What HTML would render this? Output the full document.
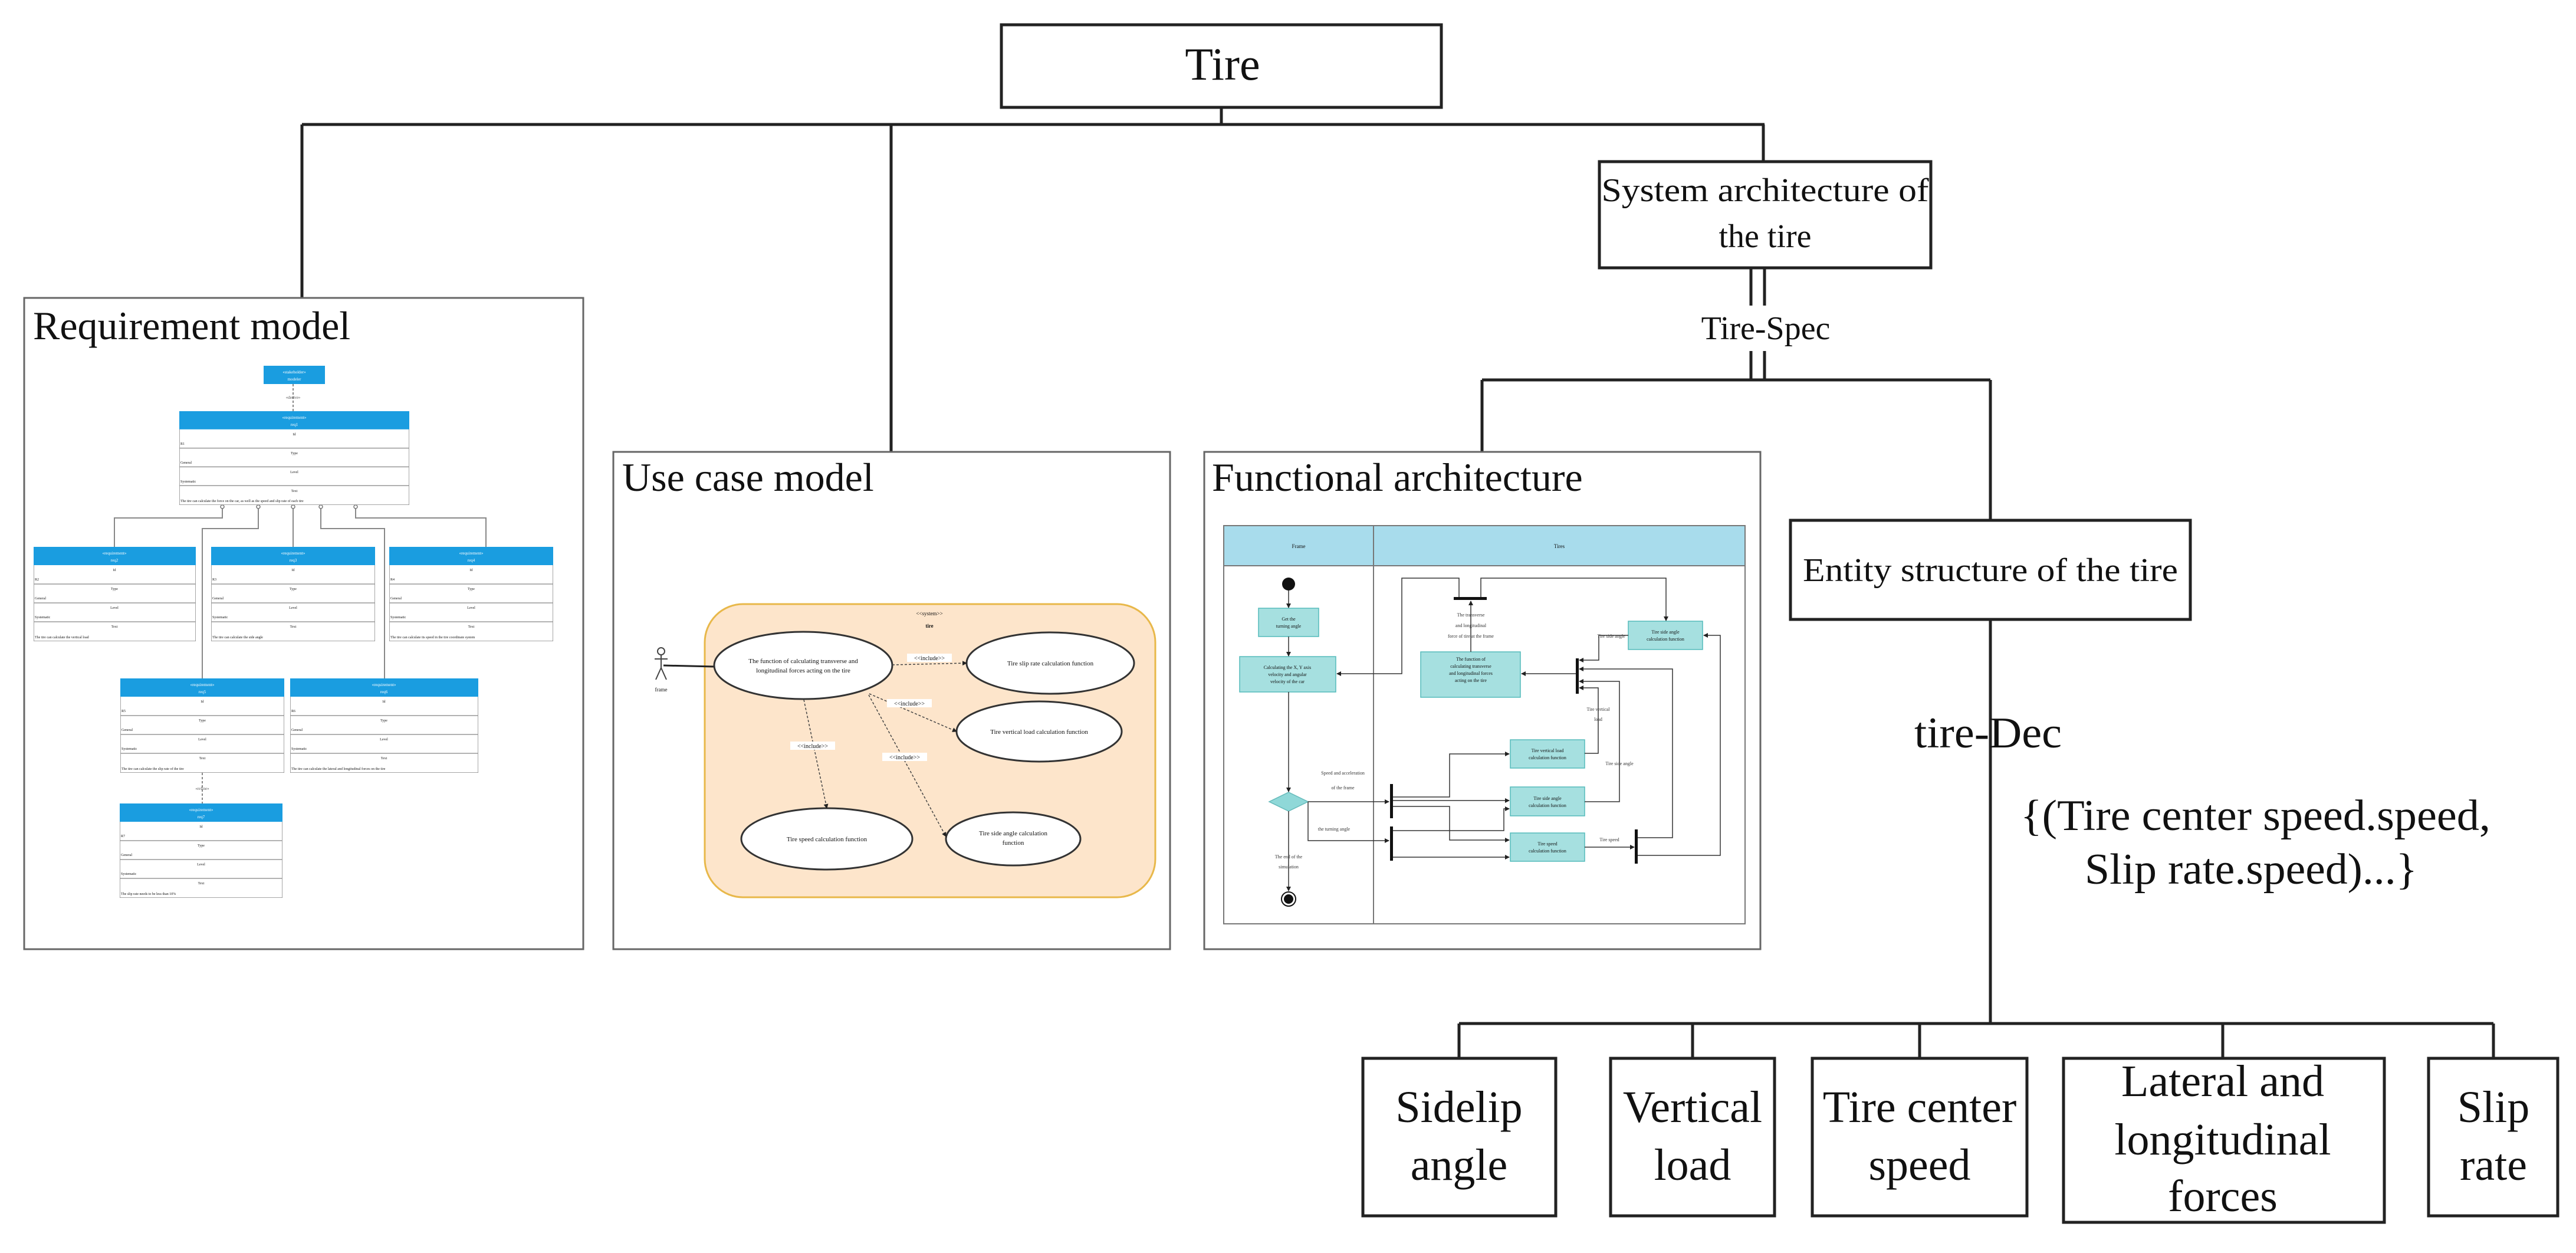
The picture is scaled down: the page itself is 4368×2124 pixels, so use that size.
<!DOCTYPE html>
<html><head><meta charset="utf-8"><style>
html,body{margin:0;padding:0;background:#fff;}
svg{display:block;}
text{font-family:"Liberation Serif",serif;fill:#111;}
</style></head><body>
<svg width="4368" height="2124" viewBox="0 0 4368 2124" xmlns="http://www.w3.org/2000/svg">
<defs>
<symbol id="rb" viewBox="0 0 300 160" preserveAspectRatio="none">
<rect x="0" y="0" width="300" height="160" fill="#fff" stroke="#888" stroke-width="1.5" vector-effect="non-scaling-stroke"/>
<rect x="0" y="0" width="300" height="31" fill="#1a9de0"/>
<g stroke="#999" stroke-width="1.5" vector-effect="non-scaling-stroke">
<line x1="0" y1="63" x2="300" y2="63" vector-effect="non-scaling-stroke"/>
<line x1="0" y1="95" x2="300" y2="95" vector-effect="non-scaling-stroke"/>
<line x1="0" y1="127" x2="300" y2="127" vector-effect="non-scaling-stroke"/>
</g>
</symbol>
<marker id="ar" markerWidth="8" markerHeight="8" refX="7" refY="4" orient="auto" markerUnits="userSpaceOnUse"><path d="M0,0 L8,4 L0,8 z" fill="#222"/></marker>
</defs>

<g stroke="#222" stroke-width="5" fill="none">
<line x1="2071" y1="183" x2="2071" y2="211"/>
<line x1="512" y1="211" x2="2992" y2="211"/>
<line x1="512" y1="211" x2="512" y2="505"/>
<line x1="1511" y1="211" x2="1511" y2="766"/>
<line x1="2990" y1="211" x2="2990" y2="272"/>
<line x1="2969" y1="455" x2="2969" y2="518"/>
<line x1="2992" y1="455" x2="2992" y2="518"/>
<line x1="2969" y1="595" x2="2969" y2="644"/>
<line x1="2992" y1="595" x2="2992" y2="644"/>
<line x1="2513" y1="644" x2="3375" y2="644"/>
<line x1="2513" y1="644" x2="2513" y2="766"/>
<line x1="3375" y1="644" x2="3375" y2="881"/>
<line x1="3375" y1="1051" x2="3375" y2="1735"/>
<line x1="2474" y1="1735" x2="4228" y2="1735"/>
<line x1="2474" y1="1735" x2="2474" y2="1793"/>
<line x1="2870" y1="1735" x2="2870" y2="1793"/>
<line x1="3255" y1="1735" x2="3255" y2="1793"/>
<line x1="3769" y1="1735" x2="3769" y2="1793"/>
<line x1="4228" y1="1735" x2="4228" y2="1793"/>
</g>

<rect x="1698" y="42" width="746" height="140" fill="#fff" stroke="#222" stroke-width="5"/>
<text x="2073" y="135" font-size="78" text-anchor="middle">Tire</text>

<rect x="2712" y="274" width="562" height="180" fill="#fff" stroke="#222" stroke-width="5"/>
<text x="2993" y="341" font-size="56" text-anchor="middle" textLength="555" lengthAdjust="spacingAndGlyphs">System architecture of</text>
<text x="2993" y="419" font-size="56" text-anchor="middle">the tire</text>
<text x="2994" y="575" font-size="56" text-anchor="middle">Tire-Spec</text>

<rect x="3036" y="882" width="678" height="168" fill="#fff" stroke="#222" stroke-width="5"/>
<text x="3375" y="985" font-size="56" text-anchor="middle" textLength="636" lengthAdjust="spacingAndGlyphs">Entity structure of the tire</text>

<text x="3246" y="1267" font-size="74" textLength="250" lengthAdjust="spacingAndGlyphs">tire-Dec</text>
<text x="3426" y="1407" font-size="74" textLength="797" lengthAdjust="spacingAndGlyphs">{(Tire center speed.speed,</text>
<text x="3535" y="1498" font-size="74" textLength="564" lengthAdjust="spacingAndGlyphs">Slip rate.speed)...}</text>

<g fill="#fff" stroke="#222" stroke-width="5">
<rect x="2311" y="1794" width="327" height="267"/>
<rect x="2731" y="1794" width="278" height="267"/>
<rect x="3073" y="1794" width="364" height="267"/>
<rect x="3499" y="1794" width="544" height="278"/>
<rect x="4118" y="1794" width="219" height="267"/>
</g>
<g font-size="76" text-anchor="middle">
<text x="2474" y="1902">Sidelip</text><text x="2474" y="2000">angle</text>
<text x="2870" y="1902">Vertical</text><text x="2870" y="2000">load</text>
<text x="3255" y="1902">Tire center</text><text x="3255" y="2000">speed</text>
<text x="3769" y="1858">Lateral and</text><text x="3769" y="1957">longitudinal</text><text x="3769" y="2053">forces</text>
<text x="4228" y="1902">Slip</text><text x="4228" y="2000">rate</text>
</g>

<g fill="#fff" stroke="#666" stroke-width="3">
<rect x="41" y="505" width="948" height="1104"/>
<rect x="1040" y="766" width="944" height="843"/>
<rect x="2042" y="766" width="943" height="843"/>
</g>
<text x="56" y="575" font-size="68">Requirement model</text>
<text x="1055" y="832" font-size="68">Use case model</text>
<text x="2055" y="832" font-size="68">Functional architecture</text>

<g stroke="#888" stroke-width="2" fill="none">
<line x1="497" y1="651" x2="497" y2="697" stroke-dasharray="4,3"/>
<polyline points="377,856 377,878 194,878 194,927"/>
<polyline points="438,856 438,896 343,896 343,1150"/>
<line x1="497" y1="856" x2="497" y2="927"/>
<polyline points="544,856 544,896 652,896 652,1150"/>
<polyline points="603,856 603,878 824,878 824,927"/>
<line x1="343" y1="1310" x2="343" y2="1362" stroke-dasharray="4,3"/>
</g>
<g fill="#fff" stroke="#777" stroke-width="1.5">
<circle cx="377" cy="859" r="3"/><circle cx="438" cy="859" r="3"/><circle cx="497" cy="859" r="3"/><circle cx="544" cy="859" r="3"/><circle cx="603" cy="859" r="3"/>
</g>
<rect x="447" y="620" width="104" height="31" fill="#1a9de0"/>
<text x="499" y="633" font-size="7" text-anchor="middle" style="fill:#fff">«stakeholder»</text>
<text x="499" y="645" font-size="7" text-anchor="middle" style="fill:#fff">modeler</text>
<text x="497" y="676" font-size="7" text-anchor="middle" style="fill:#555">«derive»</text>
<text x="343" y="1339" font-size="7" text-anchor="middle" style="fill:#555">«refine»</text>

<use href="#rb" x="304" y="697" width="390" height="159"/>
<use href="#rb" x="57" y="927" width="275" height="160"/>
<use href="#rb" x="358" y="927" width="278" height="160"/>
<use href="#rb" x="660" y="927" width="278" height="160"/>
<use href="#rb" x="204" y="1150" width="278" height="160"/>
<use href="#rb" x="492" y="1150" width="319" height="160"/>
<use href="#rb" x="203" y="1362" width="276" height="160"/>

<g font-size="7" text-anchor="middle">
<text x="499" y="710" style="fill:#fff">«requirement»</text><text x="499" y="722" style="fill:#fff">req1</text>
<text x="194" y="940" style="fill:#fff">«requirement»</text><text x="194" y="952" style="fill:#fff">req2</text>
<text x="497" y="940" style="fill:#fff">«requirement»</text><text x="497" y="952" style="fill:#fff">req3</text>
<text x="799" y="940" style="fill:#fff">«requirement»</text><text x="799" y="952" style="fill:#fff">req4</text>
<text x="343" y="1163" style="fill:#fff">«requirement»</text><text x="343" y="1175" style="fill:#fff">req5</text>
<text x="651" y="1163" style="fill:#fff">«requirement»</text><text x="651" y="1175" style="fill:#fff">req6</text>
<text x="341" y="1375" style="fill:#fff">«requirement»</text><text x="341" y="1387" style="fill:#fff">req7</text>
</g>
<g font-size="6" style="fill:#444">
<text x="499" y="738" text-anchor="middle">Id</text><text x="306" y="754">R1</text>
<text x="499" y="770" text-anchor="middle">Type</text><text x="306" y="786">General</text>
<text x="499" y="802" text-anchor="middle">Level</text><text x="306" y="818">Systematic</text>
<text x="499" y="834" text-anchor="middle">Text</text><text x="306" y="851">The tire can calculate the force on the car, as well as the speed and slip rate of each tire</text>
<text x="194" y="968" text-anchor="middle">Id</text><text x="59" y="984">R2</text>
<text x="194" y="1000" text-anchor="middle">Type</text><text x="59" y="1016">General</text>
<text x="194" y="1032" text-anchor="middle">Level</text><text x="59" y="1048">Systematic</text>
<text x="194" y="1064" text-anchor="middle">Text</text><text x="59" y="1082">The tire can calculate the vertical load</text>
<text x="497" y="968" text-anchor="middle">Id</text><text x="360" y="984">R3</text>
<text x="497" y="1000" text-anchor="middle">Type</text><text x="360" y="1016">General</text>
<text x="497" y="1032" text-anchor="middle">Level</text><text x="360" y="1048">Systematic</text>
<text x="497" y="1064" text-anchor="middle">Text</text><text x="360" y="1082">The tire can calculate the side angle</text>
<text x="799" y="968" text-anchor="middle">Id</text><text x="662" y="984">R4</text>
<text x="799" y="1000" text-anchor="middle">Type</text><text x="662" y="1016">General</text>
<text x="799" y="1032" text-anchor="middle">Level</text><text x="662" y="1048">Systematic</text>
<text x="799" y="1064" text-anchor="middle">Text</text><text x="662" y="1082">The tire can calculate its speed in the tire coordinate system</text>
<text x="343" y="1191" text-anchor="middle">Id</text><text x="206" y="1207">R5</text>
<text x="343" y="1223" text-anchor="middle">Type</text><text x="206" y="1239">General</text>
<text x="343" y="1255" text-anchor="middle">Level</text><text x="206" y="1271">Systematic</text>
<text x="343" y="1287" text-anchor="middle">Text</text><text x="206" y="1305">The tire can calculate the slip rate of the tire</text>
<text x="651" y="1191" text-anchor="middle">Id</text><text x="494" y="1207">R6</text>
<text x="651" y="1223" text-anchor="middle">Type</text><text x="494" y="1239">General</text>
<text x="651" y="1255" text-anchor="middle">Level</text><text x="494" y="1271">Systematic</text>
<text x="651" y="1287" text-anchor="middle">Text</text><text x="494" y="1305">The tire can calculate the lateral and longitudinal forces on the tire</text>
<text x="341" y="1403" text-anchor="middle">Id</text><text x="205" y="1419">R7</text>
<text x="341" y="1435" text-anchor="middle">Type</text><text x="205" y="1451">General</text>
<text x="341" y="1467" text-anchor="middle">Level</text><text x="205" y="1483">Systematic</text>
<text x="341" y="1499" text-anchor="middle">Text</text><text x="205" y="1517">The slip rate needs to be less than 10%</text>
</g>

<rect x="1195" y="1024" width="764" height="497" rx="65" fill="#fde5cb" stroke="#e8b84a" stroke-width="3"/>
<text x="1576" y="1043" font-size="9" text-anchor="middle">&lt;&lt;system&gt;&gt;</text>
<text x="1576" y="1064" font-size="9" text-anchor="middle" font-weight="bold">tire</text>
<g stroke="#444" stroke-width="2" fill="none">
<circle cx="1121" cy="1104" r="6"/>
<line x1="1121" y1="1110" x2="1121" y2="1132"/>
<line x1="1110" y1="1117" x2="1132" y2="1117"/>
<line x1="1121" y1="1132" x2="1112" y2="1152"/>
<line x1="1121" y1="1132" x2="1130" y2="1152"/>
<line x1="1125" y1="1128" x2="1211" y2="1130" stroke="#222" stroke-width="3"/>
</g>
<text x="1121" y="1172" font-size="9" text-anchor="middle">frame</text>
<g fill="#fff" stroke="#333" stroke-width="3">
<ellipse cx="1362" cy="1128" rx="151" ry="57"/>
<ellipse cx="1781" cy="1124" rx="142" ry="52"/>
<ellipse cx="1762" cy="1240" rx="140" ry="51"/>
<ellipse cx="1402" cy="1422" rx="145" ry="52"/>
<ellipse cx="1718" cy="1422" rx="114" ry="45"/>
</g>
<g stroke="#444" stroke-width="1.5" stroke-dasharray="4,3" fill="none" marker-end="url(#ar)">
<line x1="1513" y1="1127" x2="1639" y2="1124"/>
<line x1="1474" y1="1176" x2="1622" y2="1240"/>
<line x1="1363" y1="1186" x2="1402" y2="1370"/>
<line x1="1473" y1="1178" x2="1604" y2="1418"/>
</g>
<g font-size="10" text-anchor="middle">
<rect x="1538" y="1108" width="76" height="14" fill="#fff"/><text x="1576" y="1119">&lt;&lt;include&gt;&gt;</text>
<rect x="1504" y="1185" width="76" height="14" fill="#fff"/><text x="1542" y="1196">&lt;&lt;include&gt;&gt;</text>
<rect x="1340" y="1257" width="76" height="14" fill="#fff"/><text x="1378" y="1268">&lt;&lt;include&gt;&gt;</text>
<rect x="1496" y="1276" width="76" height="14" fill="#fff"/><text x="1534" y="1287">&lt;&lt;include&gt;&gt;</text>
</g>
<g font-size="11" text-anchor="middle">
<text x="1362" y="1124">The function of calculating transverse and</text>
<text x="1362" y="1140">longitudinal forces acting on the tire</text>
<text x="1781" y="1128">Tire slip rate calculation function</text>
<text x="1762" y="1244">Tire vertical load calculation function</text>
<text x="1402" y="1426">Tire speed calculation function</text>
<text x="1718" y="1416">Tire side angle calculation</text>
<text x="1718" y="1432">function</text>
</g>

<rect x="2075" y="891" width="884" height="675" fill="#fff" stroke="#777" stroke-width="2"/>
<rect x="2075" y="891" width="884" height="68" fill="#a8dcec" stroke="#777" stroke-width="2"/>
<line x1="2329" y1="891" x2="2329" y2="1566" stroke="#777" stroke-width="2"/>
<text x="2202" y="929" font-size="9" text-anchor="middle">Frame</text>
<text x="2644" y="929" font-size="9" text-anchor="middle">Tires</text>
<circle cx="2185" cy="990" r="11" fill="#111"/>
<circle cx="2185" cy="1524" r="12" fill="#fff" stroke="#111" stroke-width="2"/>
<circle cx="2185" cy="1524" r="8" fill="#111"/>
<polygon points="2152,1359 2185,1343 2218,1359 2185,1375" fill="#8fd8d8" stroke="#6bb" stroke-width="1.5"/>
<g fill="#a6e0e0" stroke="#5bb" stroke-width="1.5">
<rect x="2134" y="1031" width="102" height="48"/>
<rect x="2102" y="1113" width="163" height="60"/>
<rect x="2409" y="1105" width="169" height="77"/>
<rect x="2761" y="1053" width="126" height="48"/>
<rect x="2561" y="1254" width="126" height="48"/>
<rect x="2561" y="1334" width="126" height="49"/>
<rect x="2561" y="1412" width="126" height="48"/>
</g>
<g fill="#111">
<rect x="2465" y="1012" width="56" height="5"/>
<rect x="2357" y="1329" width="5" height="58"/>
<rect x="2357" y="1401" width="5" height="58"/>
<rect x="2772" y="1406" width="5" height="58"/>
<rect x="2672" y="1116" width="5" height="60"/>
</g>
<g stroke="#333" stroke-width="1.5" fill="none" marker-end="url(#ar)">
<line x1="2185" y1="1001" x2="2185" y2="1030"/>
<line x1="2185" y1="1079" x2="2185" y2="1112"/>
<line x1="2185" y1="1173" x2="2185" y2="1342"/>
<line x1="2185" y1="1375" x2="2185" y2="1510"/>
<line x1="2218" y1="1359" x2="2355" y2="1359"/>
<polyline points="2218,1359 2218,1425 2355,1425"/>
<polyline points="2362,1351 2458,1351 2458,1278 2559,1278"/>
<line x1="2362" y1="1357" x2="2559" y2="1357"/>
<polyline points="2362,1367 2458,1367 2458,1424 2559,1424"/>
<polyline points="2362,1408 2550,1408 2550,1371 2559,1371"/>
<line x1="2362" y1="1453" x2="2559" y2="1453"/>
<polyline points="2687,1277 2710,1277 2710,1166 2678,1166"/>
<polyline points="2687,1359 2746,1359 2746,1155 2678,1155"/>
<line x1="2687" y1="1436" x2="2771" y2="1436"/>
<polyline points="2777,1420 2836,1420 2836,1134 2678,1134"/>
<polyline points="2777,1450 2917,1450 2917,1077 2889,1077"/>
<polyline points="2761,1077 2711,1077 2711,1119 2678,1119"/>
<line x1="2672" y1="1142" x2="2580" y2="1142"/>
<line x1="2494" y1="1105" x2="2494" y2="1019"/>
<polyline points="2474,1012 2474,980 2377,980 2377,1142 2267,1142"/>
<polyline points="2511,1012 2511,980 2825,980 2825,1052"/>
</g>
<g font-size="8" text-anchor="middle">
<text x="2185" y="1052">Get the</text><text x="2185" y="1064">turning angle</text>
<text x="2183" y="1134">Calculating the X, Y axis</text><text x="2183" y="1146">velocity and angular</text><text x="2183" y="1158">velocity of the car</text>
<text x="2494" y="1120">The function of</text><text x="2494" y="1132">calculating transverse</text><text x="2494" y="1144">and longitudinal forces</text><text x="2494" y="1156">acting on the tire</text>
<text x="2824" y="1074">Tire side angle</text><text x="2824" y="1086">calculation function</text>
<text x="2624" y="1275">Tire vertical load</text><text x="2624" y="1287">calculation function</text>
<text x="2624" y="1356">Tire side angle</text><text x="2624" y="1368">calculation function</text>
<text x="2624" y="1433">Tire speed</text><text x="2624" y="1445">calculation function</text>
<text x="2494" y="1045" style="fill:#333">The transverse</text><text x="2494" y="1063" style="fill:#333">and longitudinal</text><text x="2494" y="1081" style="fill:#333">force of tire at the frame</text>
<text x="2732" y="1081" style="fill:#333">Tire side angle</text>
<text x="2710" y="1205" style="fill:#333">Tire vertical</text><text x="2710" y="1222" style="fill:#333">load</text>
<text x="2746" y="1297" style="fill:#333">Tire side angle</text>
<text x="2729" y="1426" style="fill:#333">Tire speed</text>
<text x="2277" y="1313" style="fill:#333">Speed and acceleration</text><text x="2277" y="1338" style="fill:#333">of the frame</text>
<text x="2262" y="1408" style="fill:#333">the turning angle</text>
<text x="2185" y="1455" style="fill:#333">The end of the</text><text x="2185" y="1472" style="fill:#333">simulation</text>
</g>
</svg>
</body></html>
